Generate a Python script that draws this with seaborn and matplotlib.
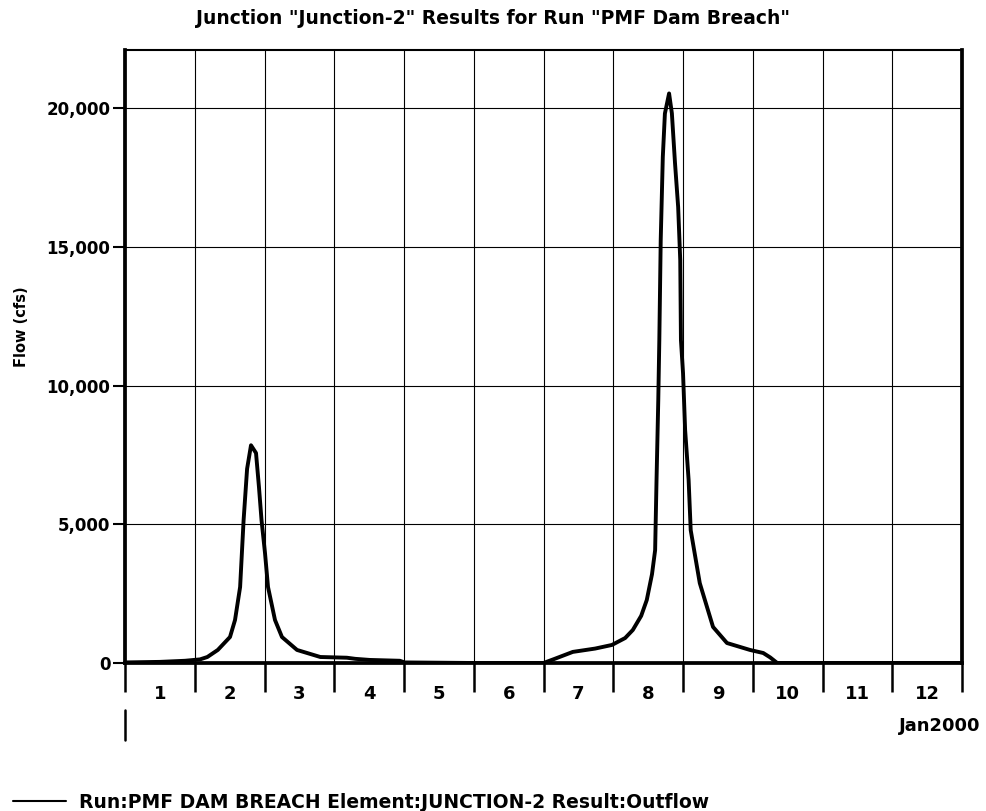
import numpy as np
import pandas as pd
import matplotlib
matplotlib.use("Agg")
import matplotlib.pyplot as plt
import seaborn as sns

# ---- data (days since 1 Jan 2000 00:00, flow in cfs) ----
time_days = [0.0, 0.5, 0.86, 1.075, 1.18, 1.33, 1.505, 1.577, 1.65, 1.70, 1.75, 1.806,
             1.878, 1.92, 1.957, 2.007, 2.05, 2.15, 2.25, 2.466, 2.80, 3.18, 3.30, 3.51,
             3.94, 4.01, 5.0, 6.0, 6.16, 6.42, 6.74, 6.98, 7.17, 7.28, 7.40, 7.48, 7.555,
             7.60, 7.62, 7.645, 7.66, 7.68, 7.71, 7.74, 7.80, 7.84, 7.885, 7.93, 7.96,
             7.97, 8.00, 8.03, 8.08, 8.11, 8.24, 8.43, 8.63, 8.96, 9.15, 9.25, 9.35, 10.0,
             11.0, 12.0]
flow_cfs = [20, 40, 80, 130, 216, 470, 937, 1550, 2740, 5150, 7000, 7850,
            7570, 6350, 5150, 3960, 2740, 1550, 937, 470, 216, 190, 150, 110,
            80, 20, 0, 0, 150, 400, 520, 650, 900, 1190, 1700, 2270, 3200,
            4070, 6595, 9480, 11640, 15243, 18245, 19810, 20535, 19820, 18020, 16440, 14520,
            11640, 10450, 8400, 6600, 4790, 2880, 1300, 720, 470, 360, 200, 0, 0,
            0, 0]
day_labels = ["1", "2", "3", "4", "5", "6", "7", "8", "9", "10", "11", "12"]
y_ticks = [0, 5000, 10000, 15000, 20000]
y_tick_labels = ["0", "5,000", "10,000", "15,000", "20,000"]
series_label = "Run:PMF DAM BREACH Element:JUNCTION-2 Result:Outflow"

df = pd.DataFrame({"day": time_days, "flow": flow_cfs})

sns.set_style("white")
plt.rcParams["font.family"] = ["DejaVu Sans"]
plt.rcParams["font.weight"] = "bold"
for k in ["text.color", "axes.labelcolor", "xtick.color", "ytick.color", "axes.edgecolor"]:
    plt.rcParams[k] = "black"

fig = plt.figure(figsize=(9.86, 8.11), dpi=100)
ax = fig.add_axes([0.1268, 0.1825, 0.8489, 0.7558])

sns.lineplot(data=df, x="day", y="flow", ax=ax, color="black", linewidth=2.8,
             label=series_label, legend=False, zorder=3)

ax.set_xlim(0, 12)
ax.set_ylim(0, 22100)

ax.set_xticks(np.arange(0, 13))
ax.set_xticklabels([])
ax.set_xticks(np.arange(0.5, 12, 1.0), minor=True)
ax.set_xticklabels(day_labels, minor=True, fontsize=13, fontweight="bold")
ax.tick_params(axis="x", which="major", bottom=True, direction="out", length=21,
               width=1.8, color="black")
ax.tick_params(axis="x", which="minor", bottom=True, length=0, pad=15.5)
ax.set_yticks(y_ticks)
ax.set_yticklabels(y_tick_labels, fontsize=12, fontweight="bold")
ax.tick_params(axis="y", left=True, direction="out", length=8.5, width=1.5,
               color="black", pad=2)

ax.grid(True, which="major", color="black", linewidth=0.8)
ax.set_axisbelow(True)

for side, sp in ax.spines.items():
    sp.set_color("black")
    sp.set_linewidth(2.7 if side != "top" else 1.5)
    sp.set_zorder(4)

ax.set_xlabel("")
ax.set_ylabel("Flow (cfs)", fontsize=10.5, fontweight="bold")
ax.yaxis.set_label_coords(-0.115, 0.548)

fig.text(0.5, 1 - 18 / 811, 'Junction "Junction-2" Results for Run "PMF Dam Breach"',
         ha="center", va="center", fontsize=13.5, fontweight="bold")

# month label and second-row tick
ax.text(1.0215, -0.088, "Jan2000", transform=ax.transAxes, ha="right", va="top",
        fontsize=13, fontweight="bold")
ax.plot([0, 0], [-0.077, -0.125], transform=ax.transAxes, color="black",
        linewidth=1.8, clip_on=False)

handles, labels = ax.get_legend_handles_labels()
leg = fig.legend(handles, labels, loc="center left",
                 bbox_to_anchor=(13 / 986, 1 - 802 / 811),
                 frameon=False, handlelength=2.8, handletextpad=0.7,
                 borderpad=0, borderaxespad=0,
                 prop={"size": 13.5, "weight": "bold"})
for h in leg.get_lines():
    h.set_linewidth(1.5)

fig.savefig("out.png", dpi=100)
